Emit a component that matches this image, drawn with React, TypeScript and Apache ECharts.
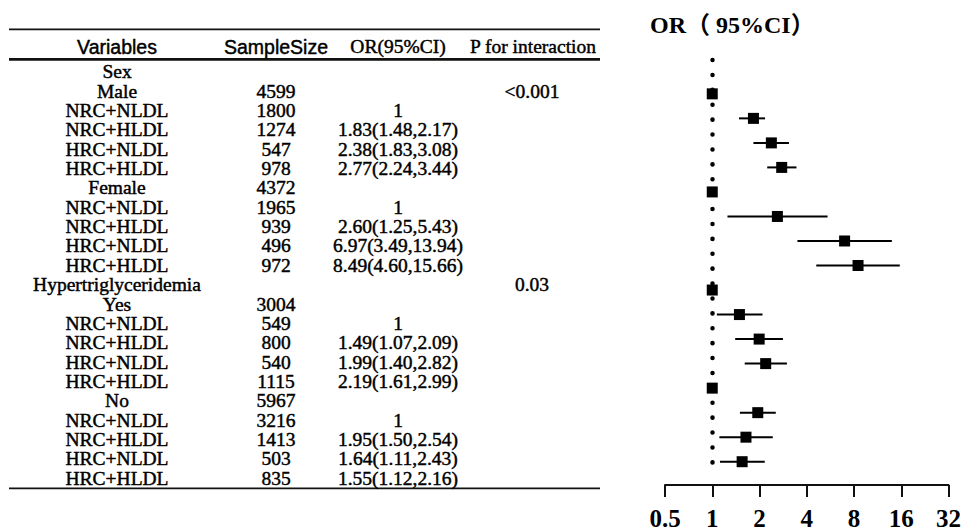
import React, { useEffect, useRef } from "react";
import * as echarts from "echarts";

// ---------- data ----------
const columnHeaders = ["Variables", "SampleSize", "OR(95%CI)", "P for interaction"];

const variables = [
  "Sex", "Male", "NRC+NLDL", "NRC+HLDL", "HRC+NLDL", "HRC+HLDL",
  "Female", "NRC+NLDL", "NRC+HLDL", "HRC+NLDL", "HRC+HLDL",
  "Hypertriglyceridemia", "Yes", "NRC+NLDL", "NRC+HLDL", "HRC+NLDL", "HRC+HLDL",
  "No", "NRC+NLDL", "NRC+HLDL", "HRC+NLDL", "HRC+HLDL",
];

const sampleSizes = [
  "", "4599", "1800", "1274", "547", "978",
  "4372", "1965", "939", "496", "972",
  "", "3004", "549", "800", "540", "1115",
  "5967", "3216", "1413", "503", "835",
];

const pInteraction = [
  "", "<0.001", "", "", "", "",
  "", "", "", "", "",
  "0.03", "", "", "", "", "",
  "", "", "", "", "",
];

// one value per subgroup row (rows whose label holds "+"), in table order
const orValues = [1, 1.83, 2.38, 2.77, 1, 2.6, 6.97, 8.49, 1, 1.49, 1.99, 2.19, 1, 1.95, 1.64, 1.55];
const lowerCI = [null, 1.48, 1.83, 2.24, null, 1.25, 3.49, 4.6, null, 1.07, 1.4, 1.61, null, 1.5, 1.11, 1.12];
const upperCI = [null, 2.17, 3.08, 3.44, null, 5.43, 13.94, 15.66, null, 2.09, 2.82, 2.99, null, 2.54, 2.43, 2.16];

const xTicks = [0.5, 1, 2, 4, 8, 16, 32];
const plotTitle = "OR（ 95%CI）";

// ---------- derived ----------
const subgroupTableRows = variables
  .map((v, i) => (v.includes("+") ? i : -1))
  .filter((i) => i >= 0);

const orLabels = variables.map((_, i) => {
  const k = subgroupTableRows.indexOf(i);
  if (k < 0) return "";
  const lo = lowerCI[k];
  const hi = upperCI[k];
  if (lo == null || hi == null) return String(orValues[k]);
  return `${orValues[k].toFixed(2)}(${lo.toFixed(2)},${hi.toFixed(2)})`;
});

const SERIF = "'Liberation Serif', 'Times New Roman', serif";
const SANS = "'Liberation Sans', Arial, sans-serif";

export default function App() {
  const ref = useRef<HTMLDivElement>(null);

  useEffect(() => {
    if (!ref.current) return;
    const chart = echarts.init(ref.current, null, { renderer: "svg" });

    const colCenters = [117, 276, 398, 532];
    const tableColumns = [variables, sampleSizes, orLabels, pInteraction];

    const txt = (family: string, size = 19.5) => ({
      fontSize: size,
      fontFamily: family,
      fill: "#000",
      stroke: "#000",
      lineWidth: 0.45,
      align: "center",
      verticalAlign: "middle",
    });

    const tableSeries = tableColumns.map((texts, c) => ({
      type: "custom",
      xAxisIndex: 1,
      yAxisIndex: 1,
      silent: true,
      data: texts.map((_, i) => [colCenters[c], i]),
      renderItem: (params: any, api: any) => {
        const t = texts[params.dataIndex];
        if (!t) return null;
        const p = api.coord([api.value(0), api.value(1)]);
        return {
          type: "text",
          x: p[0],
          y: p[1],
          style: { text: t, ...txt(SERIF) },
        };
      },
    }));

    const barData = orValues.map((_, k) => [lowerCI[k], upperCI[k], k]);

    const option: any = {
      animation: false,
      backgroundColor: "#fff",
      grid: [
        { left: 665, right: 12.3, top: 60, bottom: 40 },
        { left: 0, right: 0, top: 62, height: 426 },
      ],
      xAxis: [
        {
          type: "log",
          logBase: 2,
          min: 0.5,
          max: 32,
          interval: 1,
          gridIndex: 0,
          position: "bottom",
          axisLine: { show: true, onZero: false, lineStyle: { color: "#111", width: 2 } },
          axisTick: { show: true, inside: false, length: 12, lineStyle: { color: "#111", width: 2 } },
          axisLabel: {
            margin: 21,
            color: "#000",
            fontSize: 25,
            fontWeight: "bold",
            fontFamily: SERIF,
            formatter: (v: number) => {
              const r = Math.round(v * 100) / 100;
              return xTicks.includes(r) ? String(r) : "";
            },
          },
          splitLine: { show: false },
        },
        { type: "value", gridIndex: 1, min: 0, max: 964, show: false },
      ],
      yAxis: [
        { type: "value", gridIndex: 0, inverse: true, min: -1.38, max: 15.95, show: false },
        {
          type: "category",
          gridIndex: 1,
          inverse: true,
          data: variables.map((_, i) => String(i)),
          show: false,
        },
      ],
      series: [
        {
          type: "custom",
          xAxisIndex: 0,
          yAxisIndex: 0,
          silent: true,
          z: 2,
          data: barData,
          renderItem: (params: any, api: any) => {
            const lo = api.value(0);
            const hi = api.value(1);
            if (lo == null || hi == null || isNaN(lo) || isNaN(hi)) return null;
            const a = api.coord([lo, api.value(2)]);
            const b = api.coord([hi, api.value(2)]);
            return {
              type: "line",
              shape: { x1: a[0], y1: a[1], x2: b[0], y2: b[1] },
              style: { stroke: "#000", lineWidth: 2 },
            };
          },
        },
        {
          type: "scatter",
          xAxisIndex: 0,
          yAxisIndex: 0,
          silent: true,
          z: 3,
          symbol: "rect",
          symbolSize: 11,
          itemStyle: { color: "#000", opacity: 1 },
          data: orValues.map((v, k) => [v, k]),
          markLine: {
            silent: true,
            symbol: ["none", "none"],
            label: { show: false },
            lineStyle: { color: "#000", width: 4.5, type: [0.1, 14.8], cap: "round", opacity: 1 },
            data: [[{ coord: [1, -1.38] }, { coord: [1, 15.5] }]],
          },
        },
        ...tableSeries,
      ],
      graphic: [
        { type: "line", shape: { x1: 9, y1: 29.3, x2: 600, y2: 29.3 }, style: { stroke: "#111", lineWidth: 1.7 } },
        { type: "line", shape: { x1: 9, y1: 59.3, x2: 600, y2: 59.3 }, style: { stroke: "#111", lineWidth: 2.7 } },
        { type: "line", shape: { x1: 9, y1: 488.3, x2: 600, y2: 488.3 }, style: { stroke: "#111", lineWidth: 1.7 } },
        { type: "text", x: 117, y: 46.7, style: { text: columnHeaders[0], ...txt(SANS) } },
        { type: "text", x: 276, y: 46.7, style: { text: columnHeaders[1], ...txt(SANS) } },
        { type: "text", x: 398, y: 46.7, style: { text: columnHeaders[2], ...txt(SERIF) } },
        { type: "text", x: 533, y: 46.7, style: { text: columnHeaders[3], ...txt(SERIF) } },
        {
          type: "text", x: 650, y: 25,
          style: {
            text: plotTitle, fontSize: 24, fontWeight: "bold",
            fontFamily: "'Liberation Serif', 'Noto Sans CJK SC', serif",
            fill: "#000", align: "left", verticalAlign: "middle",
          },
        },
      ],
    };

    chart.setOption(option);
    return () => chart.dispose();
  }, []);

  return (
    <div
      ref={ref}
      style={{ position: "absolute", left: 0, top: 0, width: 964, height: 531, background: "#fff" }}
    />
  );
}
